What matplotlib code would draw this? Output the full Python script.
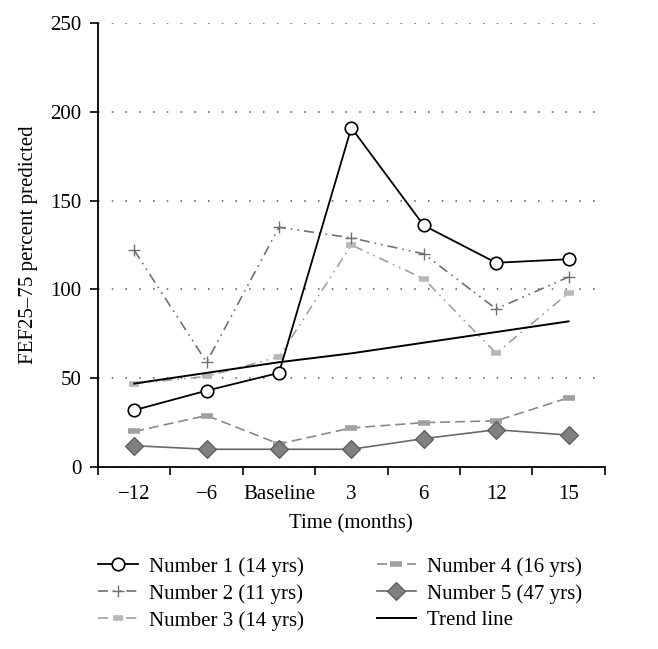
import matplotlib
matplotlib.use('Agg')
import matplotlib.pyplot as plt
import numpy as np

plt.rcParams['font.family'] = ['Liberation Serif', 'DejaVu Serif']
plt.rcParams['font.size'] = 15

times = ['\u221212', '\u22126', 'Baseline', '3', '6', '12', '15']
num1 = [32, 43, 53, 191, 136, 115, 117]
num2 = [122, 59, 135, 129, 120, 89, 107]
num3 = [47, 51, 62, 125, 106, 64, 98]
num4 = [20, 29, 13, 22, 25, 26, 39]
num5 = [12, 10, 10, 10, 16, 21, 18]
trend = [47, 53, 59, 64, 70, 76, 82]
labels = ['Number 1 (14 yrs)', 'Number 2 (11 yrs)', 'Number 3 (14 yrs)',
          'Number 4 (16 yrs)', 'Number 5 (47 yrs)', 'Trend line']

x = np.arange(len(times))

fig = plt.figure(figsize=(6.58, 6.49), dpi=100)
ax = fig.add_axes([0.149, 0.2804, 0.77, 0.6842])

h1, = ax.plot(x, num1, color='black', lw=1.3, marker='o', ms=9,
              mfc='white', mec='black', mew=1.2, zorder=6)
h2, = ax.plot(x, num2, color='#707070', lw=1.2, ls=(0, (6, 3, 1, 3, 1, 3)),
              marker='+', ms=8, mew=1.0, zorder=4)
h3, = ax.plot(x, num3, color='#a0a0a0', lw=1.2, ls=(0, (6, 3, 1, 3, 1, 3)),
              marker='_', ms=7, mew=4, mec='#b8b8b8', zorder=3)
h4, = ax.plot(x, num4, color='#8a8a8a', lw=1.2, ls=(0, (6, 3)),
              marker='_', ms=8, mew=4, mec='#a0a0a0', zorder=3)
h5, = ax.plot(x, num5, color='#6a6a6a', lw=1.2, marker='D', ms=9,
              mfc='#808080', mec='#555555', mew=0.8, zorder=5)
h6, = ax.plot(x, trend, color='black', lw=1.4, zorder=5)

ax.set_xlim(-0.5, 6.5)
ax.set_ylim(0, 250)
ax.set_yticks([0, 50, 100, 150, 200, 250])
ax.yaxis.grid(True, linestyle=(0, (1, 8)), color='#555555', lw=1.1)
ax.set_axisbelow(True)

ax.set_xticks(np.arange(-0.5, 7, 1))
ax.set_xticklabels([])
ax.set_xticks(x, minor=True)
ax.set_xticklabels(times, minor=True)
ax.tick_params(axis='x', which='major', direction='out', length=6, width=1.2)
ax.tick_params(axis='x', which='minor', length=0, pad=13)
ax.tick_params(axis='y', direction='out', length=6, width=1.2, pad=6)

for s in ['top', 'right']:
    ax.spines[s].set_visible(False)
for s in ['left', 'bottom']:
    ax.spines[s].set_linewidth(1.3)

ax.set_xlabel('Time (months)', labelpad=7)
ax.set_ylabel('FEF25\u201375 percent predicted', labelpad=9)

fig.legend([h1, h2, h3, h4, h5, h6], labels, ncol=2, loc='upper left',
           bbox_to_anchor=(0.149, 0.142), frameon=False, handlelength=1.9,
           handletextpad=0.53, columnspacing=3.5, labelspacing=0.35,
           borderaxespad=0, borderpad=0)

fig.savefig('out.png', dpi=100)
